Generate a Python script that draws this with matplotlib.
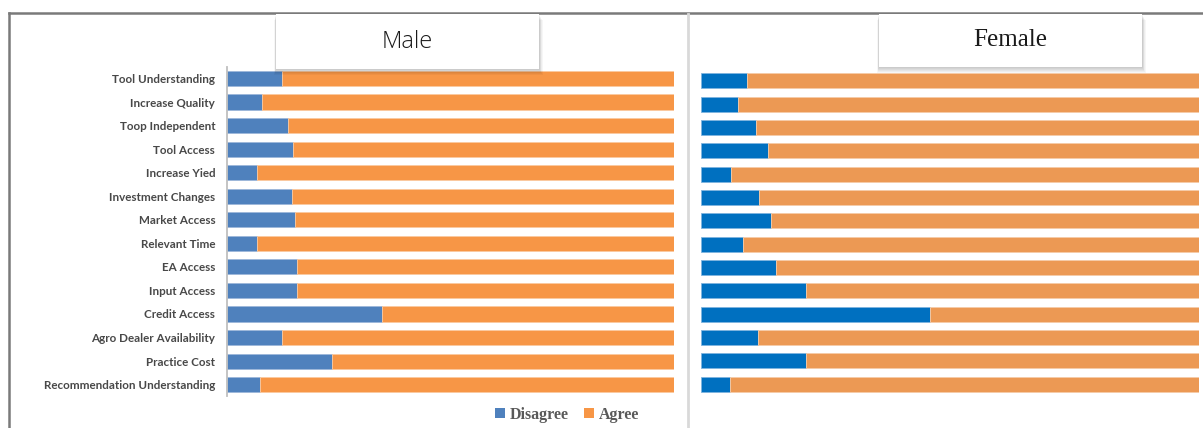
import matplotlib
matplotlib.use("Agg")
import matplotlib.pyplot as plt
from matplotlib.patches import Rectangle, Patch
from matplotlib.lines import Line2D

W, H = 1203, 428

categories = [
    "Tool Understanding", "Increase Quality", "Toop Independent", "Tool Access",
    "Increase Yied", "Investment Changes", "Market Access", "Relevant Time",
    "EA Access", "Input Access", "Credit Access", "Agro Dealer Availability",
    "Practice Cost", "Recommendation Understanding",
]

# share (%) answering "Disagree"; "Agree" is the remainder
male_disagree = [12.3, 7.8, 13.6, 14.8, 6.6, 14.6, 15.3, 6.6, 15.7, 15.7, 34.7, 12.3, 23.6, 7.3]
female_disagree = [9.2, 7.5, 11.1, 13.5, 6.1, 11.6, 14.0, 8.4, 15.1, 21.1, 46.0, 11.4, 21.1, 5.9]

male_colors = ("#4F81BD", "#F79646")
female_colors = ("#0070C0", "#EC9954")


def px_box(x0, y0, x1, y1):
    # pixel box (top-left origin) -> figure fraction [left, bottom, width, height]
    return [x0 / W, 1 - y1 / H, (x1 - x0) / W, (y1 - y0) / H]


def draw_panel(ax, disagree, colors, edge):
    agree = [100 - d for d in disagree]
    y = list(range(len(categories)))
    ax.barh(y, disagree, height=0.64, color=colors[0], edgecolor=edge[0], linewidth=0.6)
    ax.barh(y, agree, left=disagree, height=0.64, color=colors[1], edgecolor=edge[1], linewidth=0.6)
    ax.set_xlim(0, 100)
    ax.set_ylim(len(categories) - 0.5, -0.5)
    ax.set_xticks([])
    for s in ("top", "right", "bottom"):
        ax.spines[s].set_visible(False)
    ax.tick_params(axis="y", length=0, pad=8.5)


def title_box(fig, x0, y0, x1, y1, text, **kw):
    # soft drop shadow built from stacked translucent layers, then the white box
    for k in range(6, 0, -1):
        fig.add_artist(Rectangle(
            ((x0 - k * 0.3) / W, 1 - (y1 + k) / H), (x1 - x0 + k * 0.9) / W, (y1 - y0) / H,
            transform=fig.transFigure, facecolor="black", alpha=0.035, edgecolor="none", zorder=5))
    fig.add_artist(Rectangle(
        (x0 / W, 1 - y1 / H), (x1 - x0) / W, (y1 - y0) / H,
        transform=fig.transFigure, facecolor="white", edgecolor="none", zorder=6))
    fig.text((x0 + x1) / 2 / W, 1 - (y0 + y1) / 2 / H, text, ha="center", va="center",
             color="#1A1A1A", zorder=7, **kw)


fig = plt.figure(figsize=(W / 100, H / 100), dpi=100)

ax_m = fig.add_axes(px_box(227, 66.7, 674, 396.4))
draw_panel(ax_m, male_disagree, male_colors, ("#9DB7DA", "#FBC9A0"))
ax_m.set_yticks(range(len(categories)))
ax_m.set_yticklabels(categories, fontsize=8.4, color="#484848", family="Lato", fontweight="bold")
ax_m.spines["left"].set_color("#BFBFBF")
ax_m.spines["left"].set_linewidth(1.3)

ax_f = fig.add_axes(px_box(700.7, 69.1, 1199.3, 395.7))
draw_panel(ax_f, female_disagree, female_colors, ("#80B4DE", "#F6CCA8"))
ax_f.set_yticks([])
ax_f.spines["left"].set_visible(False)

# outer frame and the divider between the two panels
fig.add_artist(Line2D([9 / W, 9 / W], [0, 1 - 13 / H], transform=fig.transFigure,
                      color="#7A7A7A", linewidth=1.8))
fig.add_artist(Line2D([9 / W, 1], [1 - 13 / H, 1 - 13 / H], transform=fig.transFigure,
                      color="#7A7A7A", linewidth=1.8))
fig.add_artist(Line2D([688 / W, 688 / W], [0, 1 - 14 / H], transform=fig.transFigure,
                      color="#D9D9D9", linewidth=2))

title_box(fig, 276, 14, 539, 69, "Male", fontsize=17, family="Open Sans", fontweight="light")
title_box(fig, 879, 14, 1142, 67, "Female", fontsize=18, family="Liberation Serif")

handles = [Patch(facecolor=male_colors[0]), Patch(facecolor=male_colors[1])]
fig.legend(handles, ["Disagree", "Agree"], loc="center", bbox_to_anchor=(567 / W, 1 - 415 / H),
           ncol=2, frameon=False, handlelength=0.6, handleheight=0.6, handletextpad=0.3,
           columnspacing=1.0, prop={"family": "Liberation Serif", "weight": "bold", "size": 11.5},
           labelcolor="#595959")

fig.savefig("out.png", dpi=100, facecolor="white")
